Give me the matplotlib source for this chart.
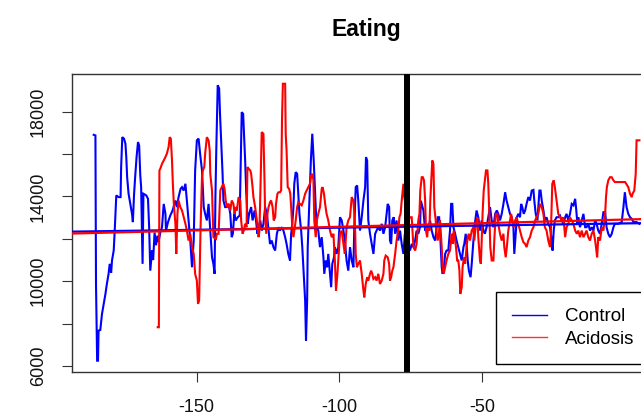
import matplotlib
matplotlib.use("Agg")
import matplotlib.pyplot as plt
from matplotlib.lines import Line2D

plt.rcParams['font.family'] = ['Liberation Sans', 'DejaVu Sans']
plt.rcParams['axes.unicode_minus'] = False

title = "Eating"
series_names = ["Control", "Acidosis"]
event_x = -76.3

ctrl_x = [-186.0, -185.4, -185.3, -185.2, -184.8, -184.5, -184.3, -183.7, -183.1, -182.5, -181.9, -181.4,
          -180.8, -180.4, -179.9, -179.6, -179.0, -178.7, -178.4, -178.1, -177.3, -176.6, -176.4, -176.0,
          -175.4, -174.9, -174.6, -174.3, -173.8, -173.2, -172.6, -172.3, -171.9, -171.5, -171.0, -170.5,
          -170.1, -169.7, -169.4, -168.9, -168.6, -167.6, -167.0, -166.6, -166.2, -165.6, -165.2, -164.7,
          -164.2, -163.7, -163.3, -162.7, -162.1, -161.5, -160.9, -160.7, -160.0, -159.2, -158.4, -157.4,
          -156.9, -156.3, -155.6, -155.1, -154.5, -153.9, -153.4, -152.8, -152.2, -151.6, -151.0, -150.5,
          -149.9, -149.3, -148.7, -148.1, -147.5, -147.0, -146.4, -145.8, -145.2, -144.6, -144.1, -143.7,
          -143.4, -143.1, -142.6, -142.1, -141.8, -141.4, -140.9, -140.6, -140.0, -139.4, -138.8, -138.2,
          -137.7, -137.3, -136.8, -136.3, -135.6, -134.9, -134.5, -134.2, -133.7, -133.3, -133.0, -132.6,
          -132.1, -131.6, -130.9, -130.4, -129.7, -129.2, -128.7, -128.3, -127.7, -127.2, -126.6, -126.0,
          -125.4, -124.8, -124.3, -123.7, -123.1, -122.5, -121.9, -121.3, -120.8, -120.2, -119.6, -119.0,
          -118.5, -117.9, -117.3, -116.9, -116.5, -116.1, -115.8, -115.3, -114.8, -114.4, -114.0, -113.4,
          -113.0, -112.5, -112.0, -111.7, -111.3, -111.1, -110.6, -110.2, -110.0, -109.5, -109.0, -108.5,
          -108.0, -107.4, -106.8, -106.2, -105.6, -105.3, -104.8, -104.3, -103.9, -103.3, -102.9, -102.5,
          -101.9, -101.6, -101.0, -100.4, -99.8, -99.2, -98.6, -98.1, -97.5, -96.9, -96.3, -95.7,
          -95.1, -94.8, -94.3, -93.8, -93.4, -92.8, -92.2, -91.6, -91.0, -90.7, -90.3, -89.9,
          -89.3, -88.7, -88.1, -87.5, -87.0, -86.4, -85.8, -85.2, -84.6, -84.0, -83.5, -83.1,
          -82.6, -82.3, -81.9, -81.5, -81.0, -80.5, -80.0, -79.4, -78.8, -78.2, -77.6, -77.1,
          -75.9, -75.3, -74.7, -74.1, -73.5, -73.0, -72.4, -71.8, -71.5, -70.6, -70.0, -69.5,
          -68.9, -68.3, -67.7, -67.1, -66.5, -65.6, -65.1, -64.8, -64.2, -63.9, -63.5, -63.0,
          -62.5, -61.9, -61.3, -60.9, -60.5, -60.1, -59.5, -59.0, -58.4, -57.8, -57.2, -56.6,
          -56.3, -55.8, -55.5, -55.1, -54.7, -54.1, -53.7, -53.1, -52.6, -52.0, -51.4, -50.8,
          -50.2, -49.6, -49.1, -48.5, -47.9, -47.3, -46.7, -46.1, -45.5, -44.9, -44.4, -43.8,
          -43.2, -42.6, -42.0, -41.5, -40.9, -40.3, -39.7, -39.1, -38.8, -38.3, -37.9, -37.4,
          -36.8, -36.4, -36.0, -35.5, -35.0, -34.5, -33.9, -33.3, -32.7, -32.1, -31.8, -31.3,
          -30.7, -30.4, -30.0, -29.6, -29.2, -28.6, -28.1, -27.5, -26.9, -26.3, -25.7, -25.4,
          -25.0, -24.6, -24.0, -23.4, -22.8, -22.2, -21.6, -21.0, -20.5, -19.9, -19.3, -18.7,
          -18.1, -17.5, -17.2, -16.7, -16.4, -15.8, -15.2, -14.6, -14.0, -13.5, -12.9, -12.3,
          -11.7, -11.1, -10.5, -10.0, -9.4, -8.8, -8.2, -7.6, -7.0, -6.5, -5.9, -5.3,
          -4.7, -4.1, -3.6, -2.4, -1.2, -0.6, -0.1, 0.5, 1.1, 1.7, 2.3, 2.9,
          4.0, 5.0]
ctrl_y = [16910, 16880, 13340, 9870, 6250, 6250, 7670, 7700, 8460, 8930, 9400, 9870,
          10350, 10820, 10400, 10980, 11450, 12240, 13180, 14050, 13970, 13970, 15390, 16800,
          16730, 16490, 15860, 14910, 14130, 13650, 13180, 12790, 14050, 14910, 15860, 16570,
          16410, 14990, 14440, 10820, 14130, 14050, 13890, 12550, 10500, 11450, 11000, 12300,
          11700, 12150, 11850, 12300, 12550, 13650, 13180, 12390, 12790, 13100, 13340, 13810,
          13500, 13970, 14360, 14440, 14280, 14600, 13810, 12870, 11920, 10660, 11920, 15230,
          16650, 16730, 15940, 15230, 13500, 13180, 12870, 13650, 12390, 11130, 10820, 10350,
          14000, 16200, 19250, 19100, 17900, 16650, 15070, 13810, 13500, 13500, 13650, 13180,
          12080, 12240, 13180, 12870, 13020, 13100, 16000, 17980, 17900, 16650, 15700, 14130,
          12710, 13180, 13500, 12870, 13340, 12870, 12240, 12550, 12870, 12390, 12710, 13500,
          13180, 12390, 11760, 11920, 11610, 11450, 12240, 12550, 12390, 12550, 12390, 12080,
          11760, 11290, 10980, 12240, 12710, 13500, 14600, 15150, 15070, 14130, 13180, 12390,
          11610, 10350, 9090, 7200, 9090, 11610, 13500, 14910, 15700, 16960, 15700, 14130,
          12550, 12390, 11610, 12080, 11130, 10350, 10980, 10660, 11290, 10350, 9720, 10820,
          11130, 11610, 11290, 11610, 13020, 12870, 12390, 11920, 10980, 10500, 11610, 10980,
          10660, 12550, 14440, 14520, 13810, 12390, 13020, 13810, 14440, 15860, 15700, 12870,
          12240, 11760, 11290, 12240, 12390, 12550, 12390, 12710, 12240, 12550, 13180, 13650,
          13500, 11920, 11760, 12870, 13020, 12240, 12870, 11920, 12390, 11760, 11290, 12240,
          11610, 11450, 11760, 11610, 11920, 12390, 12240, 12550, 13800, 13340, 12390, 12550,
          12390, 12870, 12390, 12080, 11920, 13020, 13020, 12390, 10660, 10350, 10500, 11290,
          11450, 11450, 12390, 13650, 13650, 12550, 12240, 11920, 11610, 11290, 10980, 11610,
          11760, 12240, 11760, 10980, 10500, 10190, 10820, 11920, 12710, 13340, 13020, 12390,
          12870, 12390, 12240, 12550, 13020, 13500, 12870, 12550, 13180, 13340, 13180, 12870,
          13180, 13650, 14200, 13810, 13500, 13180, 13020, 12550, 11290, 12240, 13020, 13180,
          13020, 13650, 13500, 13180, 13340, 13650, 13970, 13810, 14280, 14310, 13810, 13180,
          12870, 13500, 14280, 14280, 13810, 13340, 12870, 13020, 12710, 12550, 11920, 11450,
          12390, 12870, 13020, 13020, 13100, 12870, 12710, 13020, 13180, 12870, 13180, 13650,
          13580, 13890, 13500, 12710, 13020, 12550, 12870, 13180, 12550, 12550, 12710, 12390,
          12550, 12390, 12870, 12710, 12390, 12240, 12710, 13260, 13260, 12550, 12240, 12080,
          12240, 12550, 12710, 12710, 12790, 13500, 14200, 13500, 13180, 13020, 12950, 12790,
          12790, 12710]

acid_x = [-163.6, -163.2, -163.0, -162.7, -162.1, -161.5, -160.9, -160.4, -159.8, -159.4, -159.0, -158.6,
          -158.3, -157.9, -157.4, -157.1, -156.7, -156.3, -155.7, -155.1, -154.5, -153.9, -153.4, -152.8,
          -152.2, -151.6, -151.0, -150.5, -149.9, -149.5, -149.1, -148.6, -148.1, -147.8, -147.3, -147.0,
          -146.4, -145.8, -145.4, -145.2, -144.6, -144.3, -144.1, -143.2, -142.9, -142.3, -142.1, -141.7,
          -141.2, -140.6, -140.2, -139.8, -139.4, -138.8, -138.2, -137.7, -137.1, -136.7, -136.3, -135.9,
          -135.3, -134.7, -134.4, -133.9, -133.5, -133.0, -132.5, -132.2, -131.8, -131.2, -130.9, -130.4,
          -130.1, -129.5, -128.9, -128.6, -128.3, -128.0, -127.6, -127.2, -126.6, -126.2, -126.0, -125.6,
          -125.2, -124.8, -124.3, -123.9, -123.4, -123.0, -122.5, -122.2, -121.7, -121.3, -120.8, -120.4,
          -120.1, -119.8, -119.0, -118.8, -118.5, -118.1, -117.6, -117.2, -116.9, -116.5, -116.1, -115.8,
          -115.3, -114.8, -114.4, -113.8, -113.2, -112.6, -112.0, -111.5, -110.9, -110.3, -109.9, -109.5,
          -109.1, -108.8, -108.3, -107.9, -107.4, -106.8, -106.2, -105.9, -105.4, -105.0, -104.5, -103.9,
          -103.3, -102.7, -102.1, -101.6, -101.2, -100.7, -100.4, -99.8, -99.2, -98.6, -98.1, -97.5,
          -96.9, -96.3, -95.7, -95.1, -94.8, -94.5, -94.3, -93.9, -93.4, -92.8, -92.2, -91.6,
          -91.3, -90.8, -90.3, -89.9, -89.3, -88.9, -88.5, -88.1, -87.5, -87.0, -86.4, -85.8,
          -85.2, -84.6, -84.3, -83.8, -83.1, -82.6, -82.3, -81.9, -81.5, -81.1, -80.5, -80.0,
          -79.4, -79.0, -78.6, -78.2, -77.6, -77.3, -75.9, -75.3, -74.7, -74.1, -73.5, -73.0,
          -72.4, -72.0, -71.7, -71.2, -70.8, -70.4, -70.0, -69.7, -69.3, -68.9, -68.5, -68.2,
          -67.9, -67.5, -67.1, -66.8, -66.3, -66.0, -65.6, -65.1, -64.8, -64.2, -63.9, -63.5,
          -63.0, -62.5, -61.9, -61.3, -60.7, -60.4, -60.0, -59.5, -59.2, -58.8, -58.4, -58.0,
          -57.7, -57.2, -56.9, -56.4, -56.0, -55.5, -55.1, -54.7, -54.3, -53.7, -53.1, -52.8,
          -52.2, -51.7, -51.4, -50.8, -50.5, -50.2, -49.9, -49.5, -49.1, -48.7, -48.2, -47.9,
          -47.5, -47.2, -46.7, -46.1, -45.8, -45.3, -44.7, -44.4, -43.8, -43.2, -42.6, -42.3,
          -41.8, -41.3, -40.9, -40.3, -39.9, -39.5, -39.0, -38.5, -38.0, -37.4, -36.8, -36.2,
          -35.6, -35.0, -34.5, -33.9, -33.3, -32.7, -32.1, -31.5, -31.0, -30.4, -29.8, -29.2,
          -28.6, -28.1, -27.5, -26.9, -26.3, -26.0, -25.5, -25.0, -24.6, -24.0, -23.4, -22.8,
          -22.2, -21.6, -21.0, -20.5, -19.9, -19.3, -18.7, -18.1, -17.5, -16.9, -16.4, -15.8,
          -15.2, -14.6, -14.0, -13.5, -12.9, -12.3, -11.7, -11.1, -10.5, -10.2, -9.8, -9.4,
          -8.8, -8.2, -7.6, -7.0, -6.7, -6.4, -5.9, -5.3, -4.7, -4.1, -3.6, -2.4,
          -1.2, 0.0, 1.1, 1.7, 2.3, 2.6, 3.2, 3.7, 4.0, 4.4, 5.0]
acid_y = [7830, 7830, 15230, 15310, 15540, 15700, 15860, 16020, 16330, 16800, 16720, 15700,
          14600, 13500, 12710, 11290, 13180, 13810, 13500, 13340, 13020, 12710, 12390, 11920,
          12240, 11610, 11290, 10350, 10030, 8930, 9090, 12550, 14910, 15230, 15390, 16020,
          16800, 16650, 16170, 15070, 14280, 13020, 12080, 12000, 12240, 12240, 12870, 14280,
          14440, 14600, 14360, 13810, 13500, 13650, 13340, 13810, 13650, 13180, 13500, 13340,
          13970, 13810, 12870, 12240, 12390, 12710, 12550, 15390, 15310, 15230, 15070, 14440,
          13970, 13500, 12870, 12550, 12080, 12390, 14600, 17040, 16960, 14600, 13020, 12240,
          13180, 13500, 13730, 13810, 13500, 12870, 13020, 13650, 14130, 14200, 14200, 14280,
          17590, 19320, 19320, 16960, 16170, 14440, 14360, 14130, 13500, 12550, 12080, 12390,
          12870, 13500, 13730, 13650, 13580, 13810, 14130, 14280, 14440, 14600, 14990, 15070,
          14760, 12870, 12080, 12870, 13180, 13500, 14360, 14440, 14130, 13650, 13180, 12870,
          12390, 12080, 12240, 10980, 9560, 10350, 10980, 12240, 12390, 11760, 11290, 12550,
          12870, 13020, 13970, 13810, 13180, 12390, 11290, 10660, 10820, 10980, 10350, 9560,
          9240, 9870, 10190, 10030, 10350, 10500, 10350, 10110, 10190, 10030, 10350, 9870,
          10030, 10350, 10980, 11210, 11130, 10820, 10030, 10190, 10500, 10660, 11290, 11920,
          12390, 13020, 13180, 13810, 14600, 13970, 12870, 13020, 13020, 11610, 11450, 11760,
          12870, 13180, 14280, 14910, 14910, 14760, 13810, 12390, 12080, 12710, 12390, 13810,
          14600, 15700, 15540, 13500, 12870, 12240, 11920, 12390, 12870, 11610, 10660, 10350,
          10660, 10980, 11290, 11450, 12240, 11760, 12390, 11920, 11610, 10980, 10980, 10500,
          9400, 9720, 10660, 11130, 10820, 11610, 12080, 12240, 11920, 12390, 12550, 11920,
          12710, 13020, 12080, 10980, 10820, 11920, 13180, 14280, 14760, 15230, 15230, 14600,
          13020, 11610, 10980, 10980, 11920, 13180, 13180, 12710, 12240, 11920, 12240, 11610,
          11130, 11760, 12390, 12870, 13180, 12870, 12550, 12870, 13020, 12710, 12390, 12080,
          11840, 11760, 11610, 11920, 12080, 12390, 12550, 12870, 13020, 13180, 13650, 13500,
          13180, 12550, 12390, 11920, 11610, 12240, 14600, 14760, 14440, 13810, 13180, 13020,
          12870, 13020, 12080, 12550, 12710, 13020, 12870, 12710, 12390, 12240, 12390, 12080,
          12390, 12080, 12240, 12390, 12080, 11920, 12240, 12390, 11920, 11610, 11130, 12080,
          11920, 12550, 12390, 13180, 13970, 14440, 14760, 14910, 14910, 14760, 14680, 14680,
          14680, 14680, 14440, 14130, 13970, 14130, 14280, 15070, 16650, 16650, 16650]

# linear trend lines (intercept at x = 0, slope per unit x)
ctrl_fit = (12729, 2.01)
acid_fit = (12911, 3.41)

x_ticks = [-150, -100, -50]
y_ticks = [6000, 8000, 10000, 12000, 14000, 16000, 18000]
y_tick_labels = ["6000", "", "10000", "", "14000", "", "18000"]

W, H = 641, 412
fig = plt.figure(figsize=(W / 100, H / 100), dpi=100)
ax = fig.add_axes([72 / W, (H - 372) / H, 588 / W, 298 / H])

ax.plot(ctrl_x, ctrl_y, color='#0000FF', lw=1.5, solid_joinstyle='miter', zorder=2)
ax.plot(acid_x, acid_y, color='#FF0000', lw=1.5, solid_joinstyle='miter', zorder=3)
ax.axline((0, ctrl_fit[0]), slope=ctrl_fit[1], color='#0000FF', lw=1.6, zorder=4)
ax.axline((0, acid_fit[0]), slope=acid_fit[1], color='#FF0000', lw=1.6, zorder=5)
ax.axvline(event_x, ymin=0.01, ymax=1, color='black', lw=4.3, zorder=6)

ax.set_xlim(-193.6, 12.2)
ax.set_ylim(5717, 19780)

ax.set_xticks(x_ticks)
ax.set_xticklabels([str(t) for t in x_ticks])
ax.set_yticks(y_ticks)
ax.set_yticklabels(y_tick_labels)
ax.tick_params(axis='both', direction='out', length=7.2, width=0.8, color='#333333',
               labelsize=13, labelcolor='#111111')
ax.tick_params(axis='x', pad=12.5)
ax.tick_params(axis='y', pad=11)
for lab in ax.get_yticklabels():
    lab.set_rotation(90)
    lab.set_va('center')

for s in ax.spines.values():
    s.set_color('#333333')
    s.set_linewidth(1.0)

fig.text((72 + 660) / 2 / W, 1 - 36 / H, title, ha='center', va='baseline',
         fontsize=16.5, fontweight='bold')

handles = [Line2D([], [], color='#0000FF', lw=1.0),
           Line2D([], [], color='#FF3030', lw=1.0)]
leg = ax.legend(handles, series_names, loc='upper left',
                bbox_to_anchor=((496 - 72) / 588, (372 - 292.3) / 298),
                borderaxespad=0, fancybox=False, framealpha=1, edgecolor='black',
                prop={'size': 13.5}, handlelength=1.9, handletextpad=0.95,
                borderpad=0.84, labelspacing=0.3)
leg.get_frame().set_linewidth(1.0)

fig.savefig("out.png", dpi=100)
